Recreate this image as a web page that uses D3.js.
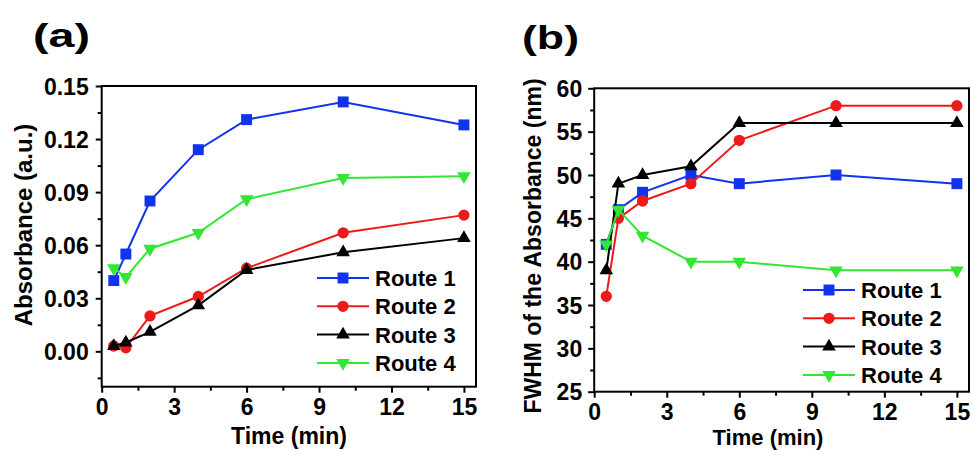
<!DOCTYPE html>
<html>
<head>
<meta charset="utf-8">
<script src="https://cdn.jsdelivr.net/npm/d3@7"></script>
<style>
body { margin:0; background:#fff; }
svg text { font-family:"Liberation Sans", Arial, sans-serif; font-weight:bold; fill:#000; }
.tick line { stroke:#000; stroke-width:2px; }
</style>
</head>
<body>
<div id="canvas"></div>
<script>
// data
var times = [0.5, 1, 2, 4, 6, 10, 15];
var routes = ['Route 1', 'Route 2', 'Route 3', 'Route 4'];

var absR1 = [0.040, 0.055, 0.085, 0.114, 0.131, 0.141, 0.128];
var absR2 = [0.003, 0.002, 0.020, 0.031, 0.047, 0.067, 0.077];
var absR3 = [0.003, 0.005, 0.011, 0.026, 0.046, 0.056, 0.064];
var absR4 = [0.047, 0.042, 0.058, 0.067, 0.086, 0.098, 0.099];

var fwR1 = [42, 46, 48, 50, 49, 50, 49];
var fwR2 = [36, 45, 47, 49, 54, 58, 58];
var fwR3 = [39, 49, 50, 51, 56, 56, 56];
var fwR4 = [42, 46, 43, 40, 40, 39, 39];

var xTicks = [0, 3, 6, 9, 12, 15];
var absTicks = [0.00, 0.03, 0.06, 0.09, 0.12, 0.15];
var fwTicks = [25, 30, 35, 40, 45, 50, 55, 60];

var colors = ['#1233ee', '#ee1a1a', '#000000', '#33e633'];
var symbols = [d3.symbolSquare, d3.symbolCircle, d3.symbolTriangle, d3.symbolTriangle];
var symSize = [120, 100, 80, 80];
var symRot = [0, 0, 0, 180];

var svg = d3.select('#canvas').append('svg')
    .attr('width', 973)
    .attr('height', 450);

function drawPanel(p) {
    var g = svg.append('g').attr('transform', 'translate(' + p.l + ',' + p.t + ')');
    var w = p.r - p.l, h = p.b - p.t;

    var x = d3.scaleLinear().domain([0, 15.5]).range([0, w]);
    var y = d3.scaleLinear().domain(p.yDomain).range([h, 0]);

    // minor ticks
    var xMinor = xTicks.slice(0, -1).map(function(d){ return d + 1.5; });
    g.append('g').attr('transform', 'translate(0,' + h + ')')
        .call(d3.axisBottom(x).tickValues(xMinor).tickSize(4).tickFormat(''))
        .select('.domain').remove();
    g.append('g')
        .call(d3.axisLeft(y).tickValues(p.yMinor).tickSize(4).tickFormat(''))
        .select('.domain').remove();

    // major ticks
    var xa = g.append('g').attr('transform', 'translate(0,' + h + ')')
        .call(d3.axisBottom(x).tickValues(xTicks).tickSize(6).tickPadding(6));
    xa.select('.domain').remove();
    xa.selectAll('text').style('font-size', '23px');

    var ya = g.append('g')
        .call(d3.axisLeft(y).tickValues(p.yTicks).tickSize(6).tickPadding(p.yPad).tickFormat(p.yFmt));
    ya.select('.domain').remove();
    ya.selectAll('text').style('font-size', '23px').attr('dy', '0.36em');

    g.append('rect')
        .attr('width', w).attr('height', h)
        .style('fill', 'none').style('stroke', '#000').style('stroke-width', '2px');

    // series
    var line = d3.line()
        .x(function(d){ return x(d[0]); })
        .y(function(d){ return y(d[1]); });

    p.series.forEach(function(vals, i) {
        var pts = times.map(function(t, k){ return [t, vals[k]]; });
        g.append('path').attr('d', line(pts))
            .style('fill', 'none').style('stroke', colors[i]).style('stroke-width', '2px');
        g.selectAll(null).data(pts).enter().append('path')
            .attr('d', d3.symbol().type(symbols[i]).size(symSize[i]))
            .attr('transform', function(d){
                return 'translate(' + x(d[0]) + ',' + y(d[1]) + ') rotate(' + symRot[i] + ')';
            })
            .style('fill', colors[i]);
    });

    // legend
    routes.forEach(function(name, i) {
        var ly = p.legY + i * 28.3 - p.t;
        var lx = p.legX - p.l;
        g.append('line')
            .attr('x1', lx).attr('x2', lx + 52)
            .attr('y1', ly).attr('y2', ly)
            .style('stroke', colors[i]).style('stroke-width', '2px');
        g.append('path')
            .attr('d', d3.symbol().type(symbols[i]).size(symSize[i]))
            .attr('transform', 'translate(' + (lx + 26) + ',' + ly + ') rotate(' + symRot[i] + ')')
            .style('fill', colors[i]);
        g.append('text')
            .attr('x', lx + 58).attr('y', ly + 8)
            .style('font-size', '22px')
            .text(name);
    });

    // titles
    svg.append('text')
        .attr('x', p.xTitleX).attr('y', p.xTitleY)
        .attr('text-anchor', 'middle')
        .style('font-size', p.xTitleSize)
        .text('Time (min)');

    svg.append('text')
        .attr('transform', 'translate(' + p.yTitleX + ',' + p.yTitleY + ') rotate(-90)')
        .attr('text-anchor', 'middle')
        .style('font-size', p.yTitleSize)
        .text(p.yTitle);

    svg.append('text')
        .attr('x', p.tagX).attr('y', p.tagY)
        .attr('textLength', 57).attr('lengthAdjust', 'spacingAndGlyphs')
        .style('font-size', '34px')
        .text(p.tag);
}

drawPanel({
    l: 101.7, t: 86, r: 476, b: 386.7,
    yDomain: [-0.02, 0.15],
    yTicks: absTicks,
    yMinor: [-0.015, 0.015, 0.045, 0.075, 0.105, 0.135],
    yFmt: d3.format('.2f'),
    yPad: 7,
    series: [absR1, absR2, absR3, absR4],
    legX: 317, legY: 278,
    xTitleX: 289, xTitleY: 444, xTitleSize: '23px',
    yTitleX: 32, yTitleY: 225, yTitleSize: '24px',
    yTitle: 'Absorbance (a.u.)',
    tag: '(a)', tagX: 33, tagY: 47
});

drawPanel({
    l: 594.2, t: 88.3, r: 969, b: 391.7,
    yDomain: [25, 60],
    yTicks: fwTicks,
    yMinor: [27.5, 32.5, 37.5, 42.5, 47.5, 52.5, 57.5],
    yFmt: d3.format('d'),
    yPad: 6,
    series: [fwR1, fwR2, fwR3, fwR4],
    legX: 803, legY: 290,
    xTitleX: 768, xTitleY: 445, xTitleSize: '22px',
    yTitleX: 541, yTitleY: 246, yTitleSize: '23px',
    yTitle: 'FWHM of the Absorbance (nm)',
    tag: '(b)', tagX: 522, tagY: 49
});
</script>
</body>
</html>
